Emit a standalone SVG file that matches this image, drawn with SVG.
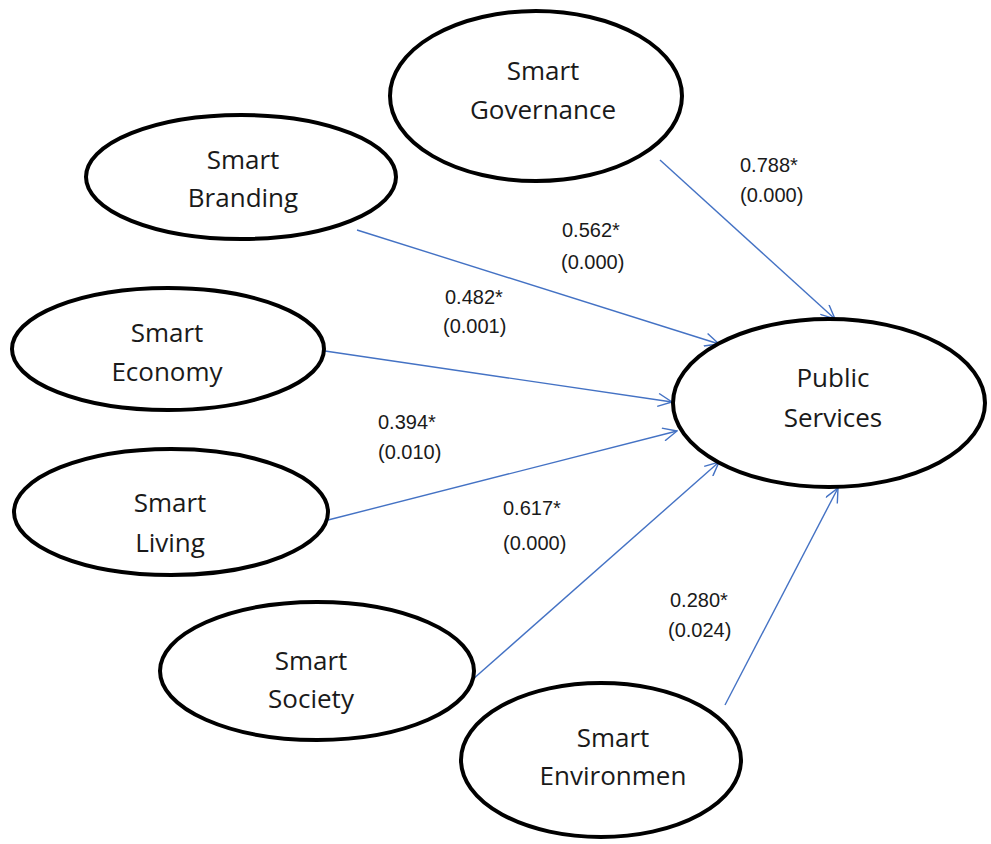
<svg xmlns="http://www.w3.org/2000/svg" width="991" height="844" viewBox="0 0 991 844">
<style>
.node ellipse{fill:#fff;stroke:#000;stroke-width:4}
.node text{font-family:"Open Sans","DejaVu Sans",sans-serif;font-size:26px;fill:#1a1a1a;text-anchor:middle}
.edge{stroke:#4472c4;stroke-width:1.4;fill:none;marker-end:url(#arr)}
.lbl{font-family:"Liberation Sans","DejaVu Sans",sans-serif;font-size:20px;fill:#1a1a1a}
</style>
<defs>
<marker id="arr" viewBox="0 0 16 14" refX="15" refY="7" markerWidth="16" markerHeight="14" markerUnits="userSpaceOnUse" orient="auto">
<path d="M1,0.5 L15,7 L1,13.5" fill="none" stroke="#4472c4" stroke-width="1.4"/>
</marker>
</defs>
<rect width="991" height="844" fill="#fff"/>
<g id="connectors">
<line class="edge" x1="660" y1="160" x2="835" y2="319"/>
<line class="edge" x1="357" y1="230" x2="719" y2="344"/>
<line class="edge" x1="325" y1="351" x2="672" y2="402"/>
<line class="edge" x1="328" y1="520" x2="677" y2="431"/>
<line class="edge" x1="472" y1="680" x2="719" y2="462"/>
<line class="edge" x1="725" y1="705" x2="838" y2="488"/>
</g>
<g id="labels">
<text class="lbl" x="740" y="172">0.788*</text><text class="lbl" x="740" y="202">(0.000)</text>
<text class="lbl" x="562" y="237">0.562*</text><text class="lbl" x="561" y="269">(0.000)</text>
<text class="lbl" x="445" y="304">0.482*</text><text class="lbl" x="443" y="333">(0.001)</text>
<text class="lbl" x="378" y="429">0.394*</text><text class="lbl" x="378" y="459">(0.010)</text>
<text class="lbl" x="503" y="515">0.617*</text><text class="lbl" x="503" y="550">(0.000)</text>
<text class="lbl" x="670" y="607">0.280*</text><text class="lbl" x="668" y="637">(0.024)</text>
</g>
<g id="smart-governance" class="node"><ellipse cx="536" cy="96" rx="146" ry="85"/><text x="543" y="80">Smart</text><text x="543" y="119">Governance</text></g>
<g id="smart-branding" class="node"><ellipse cx="241" cy="177" rx="155" ry="62"/><text x="243" y="169">Smart</text><text x="243" y="207">Branding</text></g>
<g id="smart-economy" class="node"><ellipse cx="168" cy="349" rx="156" ry="61"/><text x="167" y="342">Smart</text><text x="167" y="381">Economy</text></g>
<g id="smart-living" class="node"><ellipse cx="171" cy="512" rx="157" ry="63"/><text x="170" y="512">Smart</text><text x="170" y="552">Living</text></g>
<g id="smart-society" class="node"><ellipse cx="317" cy="671" rx="157" ry="69"/><text x="311" y="670">Smart</text><text x="311" y="708">Society</text></g>
<g id="smart-environment" class="node"><ellipse cx="601" cy="760" rx="140" ry="77"/><text x="613" y="747">Smart</text><text x="613" y="785">Environmen</text></g>
<g id="public-services" class="node"><ellipse cx="829" cy="403" rx="156" ry="84"/><text x="833" y="387">Public</text><text x="833" y="427">Services</text></g>
</svg>
